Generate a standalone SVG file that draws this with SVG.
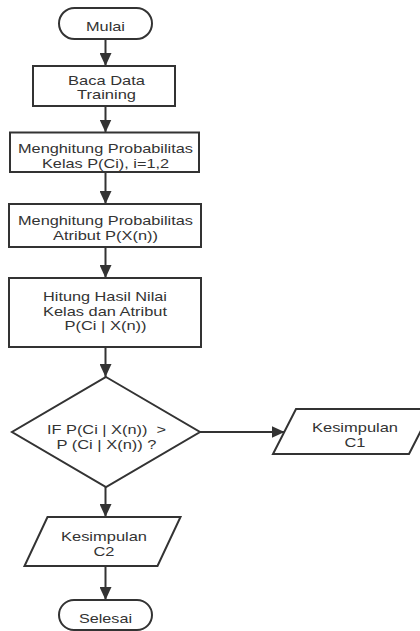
<svg xmlns="http://www.w3.org/2000/svg" width="420" height="631" viewBox="0 0 420 631">
<defs>
<marker id="ah" markerUnits="userSpaceOnUse" markerWidth="13" markerHeight="12" refX="13" refY="6" orient="auto">
<path d="M0,0 L13,6 L0,12 z" fill="#333"/>
</marker>
<style>
.s{fill:#fff;stroke:#333;stroke-width:2}
.t{font-family:"Liberation Sans",Arial,sans-serif;font-size:13.5px;fill:#333;text-anchor:middle}
.c{stroke:#333;stroke-width:2;fill:none;marker-end:url(#ah)}
</style>
</defs>
<rect width="420" height="631" fill="#fff"/>
<g id="connectors">
<line class="c" x1="105.5" y1="39" x2="105.5" y2="66"/>
<line class="c" x1="105.5" y1="106" x2="105.5" y2="132.5"/>
<line class="c" x1="105.5" y1="172" x2="105.5" y2="204"/>
<line class="c" x1="105.5" y1="247" x2="105.5" y2="278"/>
<line class="c" x1="105.5" y1="347" x2="105.5" y2="377"/>
<line class="c" x1="200" y1="432" x2="284.5" y2="432"/>
<line class="c" x1="105.5" y1="487" x2="105.5" y2="517"/>
<line class="c" x1="105.5" y1="566" x2="105.5" y2="600"/>
</g>
<g id="mulai">
<rect class="s" x="59" y="8" width="93" height="31" rx="15.5"/>
<text class="t" x="105.5" y="30.5" textLength="39" lengthAdjust="spacingAndGlyphs">Mulai</text>
</g>
<g id="baca">
<rect class="s" x="33" y="66" width="142" height="40"/>
<text class="t" x="106.5" y="84.5" textLength="77" lengthAdjust="spacingAndGlyphs">Baca Data</text>
<text class="t" x="106.5" y="99" textLength="59" lengthAdjust="spacingAndGlyphs">Training</text>
</g>
<g id="kelas">
<rect class="s" x="10" y="132.5" width="189" height="39.5"/>
<text class="t" x="105.5" y="153.3" textLength="175" lengthAdjust="spacingAndGlyphs">Menghitung Probabilitas</text>
<text class="t" x="105.5" y="167.7" textLength="127" lengthAdjust="spacingAndGlyphs">Kelas P(Ci), i=1,2</text>
</g>
<g id="atribut">
<rect class="s" x="9" y="204" width="192" height="43"/>
<text class="t" x="105.5" y="225" textLength="175" lengthAdjust="spacingAndGlyphs">Menghitung Probabilitas</text>
<text class="t" x="105.5" y="240" textLength="105" lengthAdjust="spacingAndGlyphs">Atribut P(X(n))</text>
</g>
<g id="hitung">
<rect class="s" x="9" y="278" width="192" height="69"/>
<text class="t" x="105" y="301" textLength="124" lengthAdjust="spacingAndGlyphs">Hitung Hasil Nilai</text>
<text class="t" x="105" y="315.7" textLength="124" lengthAdjust="spacingAndGlyphs">Kelas dan Atribut</text>
<text class="t" x="105.5" y="330" textLength="82" lengthAdjust="spacingAndGlyphs">P(Ci | X(n))</text>
</g>
<g id="keputusan">
<polygon class="s" points="106,377 200,432 106,487 12,432"/>
<text class="t" x="106.5" y="434" textLength="119" lengthAdjust="spacingAndGlyphs" xml:space="preserve">IF P(Ci | X(n))  &gt;</text>
<text class="t" x="106.5" y="449" textLength="100" lengthAdjust="spacingAndGlyphs">P (Ci | X(n)) ?</text>
</g>
<g id="c1">
<polygon class="s" points="296,409 432,409 409,454 273,454"/>
<text class="t" x="355" y="431.7" textLength="86" lengthAdjust="spacingAndGlyphs">Kesimpulan</text>
<text class="t" x="355" y="446.7" textLength="21" lengthAdjust="spacingAndGlyphs">C1</text>
</g>
<g id="c2">
<polygon class="s" points="47.5,517 180.5,517 157.5,566 24.5,566"/>
<text class="t" x="104" y="541" textLength="86" lengthAdjust="spacingAndGlyphs">Kesimpulan</text>
<text class="t" x="104" y="556" textLength="21" lengthAdjust="spacingAndGlyphs">C2</text>
</g>
<g id="selesai">
<rect class="s" x="59" y="600" width="93" height="30" rx="15"/>
<text class="t" x="105.5" y="622.5" textLength="53" lengthAdjust="spacingAndGlyphs">Selesai</text>
</g>
</svg>
